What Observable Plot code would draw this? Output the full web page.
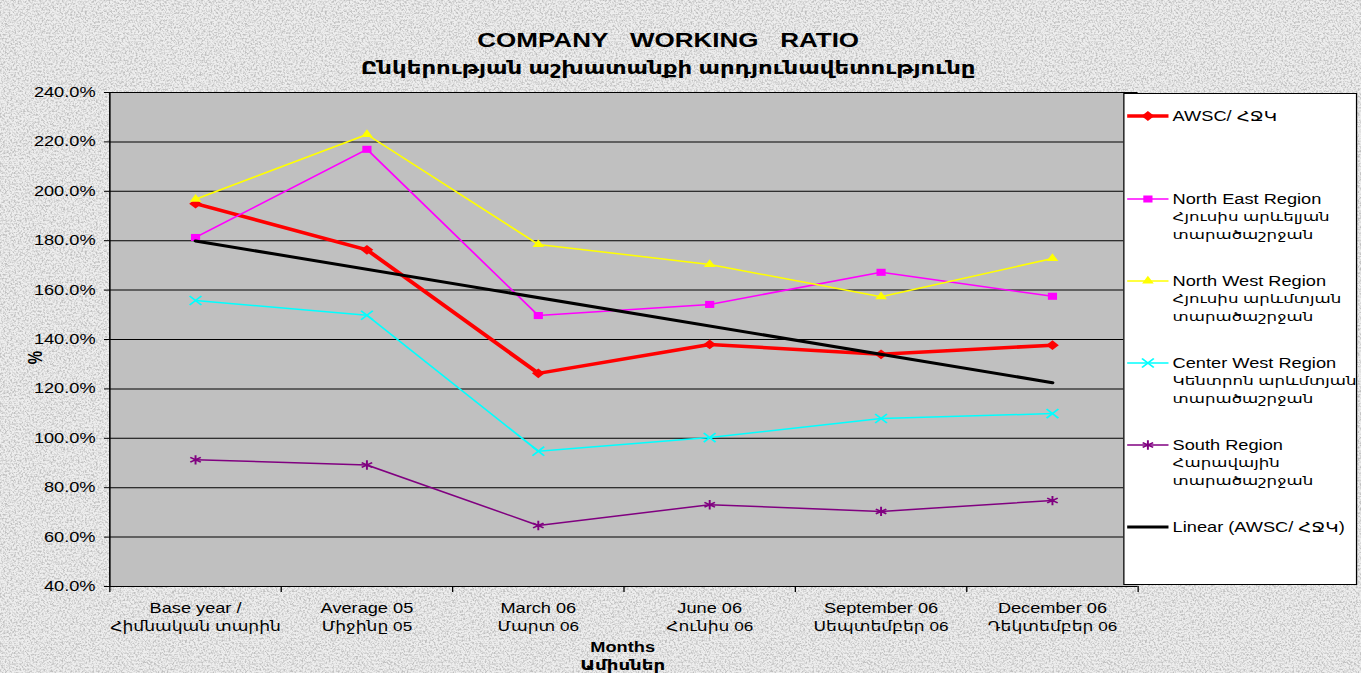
<!DOCTYPE html>
<html>
<head>
<meta charset="utf-8">
<script src="https://cdn.jsdelivr.net/npm/d3@7"></script>
<script src="https://cdn.jsdelivr.net/npm/@observablehq/plot@0.6"></script>
<style>
  html, body { margin: 0; padding: 0; }
  body {
    width: 1361px; height: 673px; overflow: hidden; position: relative;
    background-color: #e4e4e4;
    font-family: "Liberation Sans", Arial, "DejaVu Sans", sans-serif;
    color: #000;
  }
  #stage {
    position: absolute; left: 0; top: 0; width: 1047px; height: 673px;
    transform: scaleX(1.3); transform-origin: 0 0;
  }
  #stage svg.chart { position: absolute; left: 0; top: 0; }
  .title { position: absolute; left: 0; width: 1028px; text-align: center; font-weight: bold; white-space: nowrap; }
  .xtitle { position: absolute; left: 0; width: 958px; text-align: center; font-weight: bold; font-size: 14px; line-height: 18px; }
  .ylab { position: absolute; left: 20px; top: 349px; font-weight: bold; font-size: 15px; transform: rotate(-90deg); transform-origin: 50% 50%; }
  #legend { position: absolute; left: 864px; top: 93px; width: 180px; height: 492px; background: #fff; border: 1px solid #000; box-sizing: border-box; }
  .entry { position: absolute; left: 867px; font-size: 14px; line-height: 18px; white-space: nowrap; }
  .entry svg { position: absolute; left: 0; top: 0; }
  .entry .txt { position: absolute; left: 35px; top: 0; }
  .entry .arm { font-size: 12.8px; }
</style>
</head>
<body>
<div id="stage"></div>
<script>
// ---------- data ----------
const categories = [
  "Base year /\nՀիմնական տարին",
  "Average 05\nՄիջինը 05",
  "March 06\nՄարտ 06",
  "June 06\nՀունիս 06",
  "September 06\nՍեպտեմբեր 06",
  "December 06\nԴեկտեմբեր 06"
];
const awsc       = [195.0, 176.3, 126.3, 138.0, 134.0, 137.7];
const northEast  = [181.3, 217.0, 149.7, 154.2, 167.2, 157.5];
const northWest  = [196.8, 223.0, 178.5, 170.4, 157.3, 172.8];
const centerWest = [155.8, 149.8,  94.8, 100.3, 108.0, 110.0];
const south      = [ 91.3,  89.2,  64.7,  73.1,  70.4,  74.8];
const yTicks = [40, 60, 80, 100, 120, 140, 160, 180, 200, 220, 240];
const seriesNames = [
  "AWSC/ ՀՋԿ",
  "North East Region\nՀյուսիս արևելյան\nտարածաշրջան",
  "North West Region\nՀյուսիս արևմտյան\nտարածաշրջան",
  "Center West Region\nԿենտրոն արևմտյան\nտարածաշրջան",
  "South Region\nՀարավային\nտարածաշրջան"
];
const trendName = "Linear (AWSC/ ՀՋԿ)";
const titleText = "COMPANY\u00a0\u00a0 WORKING\u00a0\u00a0 RATIO";
const subtitleText = "Ընկերության աշխատանքի արդյունավետությունը";
const xTitle = ["Months", "Ամիսներ"];
const yTitle = "%";

// ---------- styles ----------
const styles = [
  {color: "#ff0000", width: 3.5, symbol: "diamond2", r: 4.4, filled: true},
  {color: "#ff00ff", width: 1.5, symbol: "square2", r: 4.5, filled: true},
  {color: "#ffff00", width: 1.5, symbol: "triangle2", r: 4.3, filled: true},
  {color: "#00ffff", width: 1.5, symbol: "times", r: 4.2, filled: false},
  {color: "#800080", width: 1.5, symbol: "asterisk", r: 4.4, filled: false}
];
const values = [awsc, northEast, northWest, centerWest, south];
const series = values.map((v, k) => ({name: seriesNames[k], rows: v.map((y, i) => ({x: i + 1, y})), ...styles[k]}));

// background texture (granite-like)
const noise = `<svg xmlns='http://www.w3.org/2000/svg' width='240' height='240'><filter id='n' x='0' y='0' width='100%' height='100%' color-interpolation-filters='sRGB'><feTurbulence type='fractalNoise' baseFrequency='0.55' numOctaves='4' seed='7' stitchTiles='stitch'/><feColorMatrix type='matrix' values='0 0 0 0 0.6  0 0 0 0 0.6  0 0 0 0 0.6  3 0 0 0 -1.25'/></filter><rect width='240' height='240' fill='#eeeeee'/><rect width='240' height='240' fill='#888' filter='url(#n)' opacity='0.55'/></svg>`;
document.body.style.backgroundImage = `url("data:image/svg+xml,${encodeURIComponent(noise)}")`;

const stage = document.getElementById("stage");
const W = 1047, H = 673;
const plotLeft = 84, plotRight = 875, plotTop = 92, plotBottom = 586;

const latin = categories.map(c => c.split("\n")[0]);
const armenian = categories.map(c => c.split("\n")[1]);

const marks = [
  Plot.frame({fill: "#c0c0c0", stroke: "none"}),
  Plot.gridY(yTicks.slice(1), {stroke: "#000", strokeOpacity: 1, strokeWidth: 1}),
  Plot.ruleY([yTicks[0]], {stroke: "#000", strokeWidth: 1.2}),
  Plot.ruleX([0.5], {stroke: "#000", strokeWidth: 1.2}),
  Plot.axisY({ticks: yTicks, tickFormat: d => d.toFixed(1) + "%", tickSize: 4, tickPadding: 7, fontSize: 14, label: null, stroke: "#000"}),
  Plot.axisX({ticks: d3.range(0.5, categories.length + 1, 1), tickSize: 6, tickFormat: () => "", label: null, stroke: "#000"}),
  Plot.text(latin, {x: (d, i) => i + 1, frameAnchor: "bottom", dy: 17, lineAnchor: "top", fontSize: 14, fill: "#000"}),
  Plot.text(armenian, {x: (d, i) => i + 1, frameAnchor: "bottom", dy: 35, lineAnchor: "top", fontSize: 13.2, fill: "#000"})
];
for (const s of series) {
  marks.push(Plot.line(s.rows, {x: "x", y: "y", stroke: s.color, strokeWidth: s.width}));
  marks.push(Plot.dot(s.rows, s.filled
    ? {x: "x", y: "y", symbol: () => s.symbol, r: s.r, fill: s.color, stroke: "none"}
    : {x: "x", y: "y", symbol: () => s.symbol, r: s.r, fill: "none", stroke: s.color, strokeWidth: 1.5}));
}
marks.push(Plot.linearRegressionY(series[0].rows, {x: "x", y: "y", stroke: "#000", strokeWidth: 3, ci: 0}));

const chart = Plot.plot({
  width: W, height: H,
  marginLeft: plotLeft, marginRight: W - plotRight, marginTop: plotTop, marginBottom: H - plotBottom,
  x: {type: "linear", domain: [0.5, categories.length + 0.5]},
  y: {domain: [yTicks[0], yTicks[yTicks.length - 1]]},
  style: {background: "transparent", fontFamily: "'Liberation Sans', Arial, 'DejaVu Sans', sans-serif", fontSize: "14px", color: "#000", overflow: "visible"},
  marks
});
chart.classList.add("chart");
stage.appendChild(chart);

// titles
function addDiv(cls, text, css) {
  const d = document.createElement("div");
  d.className = cls; d.textContent = text; Object.assign(d.style, css); stage.appendChild(d); return d;
}
addDiv("title", titleText, {top: "28px", fontSize: "20px", lineHeight: "24px"});
addDiv("title", subtitleText, {top: "56px", fontSize: "17.6px", lineHeight: "24px"});
const xt = addDiv("xtitle", "", {top: "638px"});
xt.innerHTML = xTitle.join("<br>");
addDiv("ylab", yTitle, {});

// legend
const legend = document.createElement("div"); legend.id = "legend"; stage.appendChild(legend);
const symbolTypes = {diamond2: d3.symbolDiamond2, square2: d3.symbolSquare2, triangle2: d3.symbolTriangle2, times: d3.symbolTimes, asterisk: d3.symbolAsterisk};
const entryTops = [107, 190, 272, 354, 436, 518];
const entries = series.map(s => ({name: s.name, color: s.color, width: s.width, symbol: s.symbol, r: s.r, filled: s.filled}))
  .concat([{name: trendName, color: "#000", width: 3, symbol: null}]);
entries.forEach((e, k) => {
  const div = document.createElement("div");
  div.className = "entry"; div.style.top = entryTops[k] + "px";
  const svg = d3.create("svg").attr("width", 32).attr("height", 18);
  svg.append("line").attr("x1", 0).attr("x2", 32).attr("y1", 9).attr("y2", 9).attr("stroke", e.color).attr("stroke-width", e.width);
  if (e.symbol) {
    svg.append("path").attr("transform", "translate(16,9)")
      .attr("d", d3.symbol(symbolTypes[e.symbol], Math.PI * e.r * e.r)())
      .attr("fill", e.filled ? e.color : "none").attr("stroke", e.filled ? "none" : e.color).attr("stroke-width", 1.5);
  }
  div.appendChild(svg.node());
  const t = document.createElement("div"); t.className = "txt";
  e.name.split("\n").forEach((line, j) => {
    const ln = document.createElement("div");
    ln.textContent = line;
    if (j > 0) ln.className = "arm";
    t.appendChild(ln);
  });
  div.appendChild(t);
  stage.appendChild(div);
});
</script>
</body>
</html>
